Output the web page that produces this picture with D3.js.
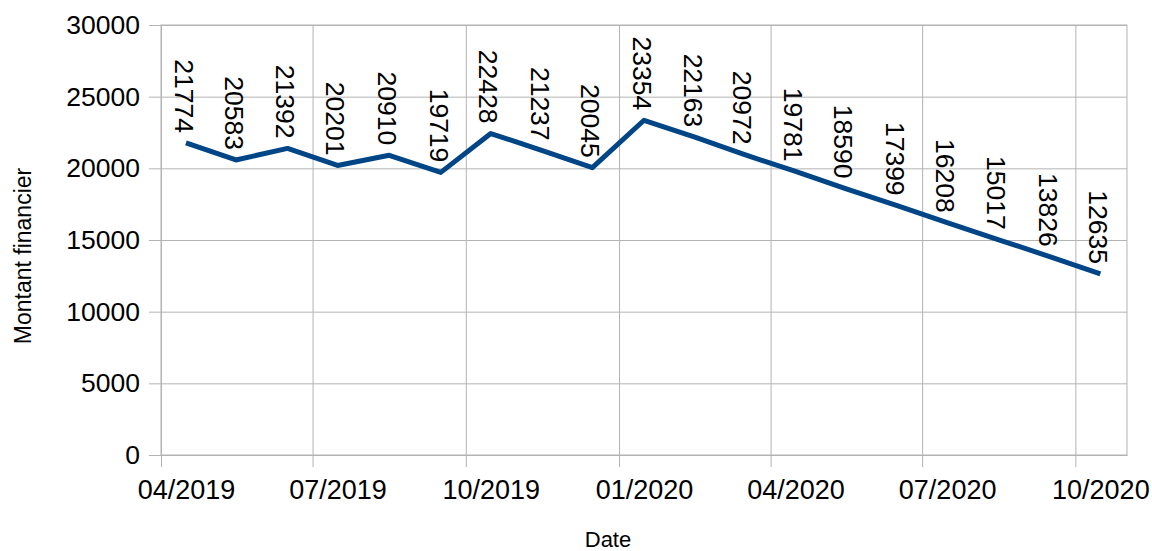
<!DOCTYPE html>
<html>
<head>
<meta charset="utf-8">
<script src="https://cdn.jsdelivr.net/npm/d3@7"></script>
<style>
  body { margin: 0; background: #fff; }
  svg { display: block; font-family: "Liberation Sans", Arial, sans-serif; }
</style>
</head>
<body>
<svg width="1152" height="551"></svg>
<script>
// one point per month, April 2019 to October 2020
const months = ['2019-04', '2019-05', '2019-06', '2019-07', '2019-08', '2019-09',
  '2019-10', '2019-11', '2019-12', '2020-01', '2020-02', '2020-03', '2020-04',
  '2020-05', '2020-06', '2020-07', '2020-08', '2020-09', '2020-10'];
const amounts = [21774, 20583, 21392, 20201, 20910, 19719, 22428, 21237, 20045,
  23354, 22163, 20972, 19781, 18590, 17399, 16208, 15017, 13826, 12635];
const yTicks = [0, 5000, 10000, 15000, 20000, 25000, 30000];

const parseMonth = d3.timeParse('%Y-%m');
const data = months.map((m, i) => ({
  date: d3.timeDay.offset(parseMonth(m), 15),
  value: amounts[i]
}));

const svg = d3.select('svg');
const plotLeft = 161, plotRight = 1127, plotTop = 25, plotBottom = 455;

const x = d3.scaleTime()
  .domain([parseMonth('2019-04'), parseMonth('2020-11')])
  .range([plotLeft, plotRight]);

const y = d3.scaleLinear()
  .domain([0, 30000])
  .range([plotBottom, plotTop]);

const grey = '#b3b3b3';
const font = '"Liberation Sans", Arial, sans-serif';

// grid
svg.append('g')
  .attr('transform', `translate(${plotLeft},0)`)
  .call(d3.axisLeft(y).tickValues(yTicks).tickSize(-(plotRight - plotLeft)).tickFormat(''))
  .call(g => g.select('.domain').remove())
  .call(g => g.selectAll('line').attr('stroke', grey));

svg.append('g')
  .attr('transform', `translate(0,${plotBottom})`)
  .call(d3.axisBottom(x).ticks(d3.timeMonth.every(3)).tickSize(-(plotBottom - plotTop)).tickFormat(''))
  .call(g => g.select('.domain').remove())
  .call(g => g.selectAll('line').attr('stroke', grey));

svg.append('rect')
  .attr('x', plotLeft).attr('y', plotTop)
  .attr('width', plotRight - plotLeft).attr('height', plotBottom - plotTop)
  .attr('fill', 'none').attr('stroke', grey);

// axes
svg.append('g')
  .attr('transform', `translate(${plotLeft},0)`)
  .call(d3.axisLeft(y).tickValues(yTicks).tickSize(12).tickPadding(9).tickSizeOuter(0)
    .tickFormat(d3.format('d')))
  .call(g => g.selectAll('line, .domain').attr('stroke', grey))
  .call(g => g.selectAll('text').attr('font-size', 26.5).attr('fill', '#000')
    .attr('font-family', font));

svg.append('g')
  .attr('transform', `translate(0,${plotBottom})`)
  .call(d3.axisBottom(x).ticks(d3.timeMonth.every(3)).tickSize(12).tickPadding(13)
    .tickSizeOuter(0).tickFormat(d3.timeFormat('%m/%Y')))
  .call(g => g.selectAll('line, .domain').attr('stroke', grey))
  .call(g => g.selectAll('text').attr('font-size', 27).attr('fill', '#000')
    .attr('font-family', font)
    .attr('x', d => x(d3.timeDay.offset(d, 15)) - x(d)));

// axis titles
svg.append('text')
  .attr('x', 608).attr('y', 547)
  .attr('text-anchor', 'middle')
  .attr('font-size', 22)
  .text('Date');

svg.append('text')
  .attr('transform', 'translate(31,256) rotate(-90)')
  .attr('text-anchor', 'middle')
  .attr('font-size', 23)
  .text('Montant financier');

// line
const line = d3.line()
  .x(d => x(d.date))
  .y(d => y(d.value));

svg.append('path')
  .datum(data)
  .attr('d', line)
  .attr('fill', 'none')
  .attr('stroke', '#004586')
  .attr('stroke-width', 5)
  .attr('stroke-linejoin', 'round');

// value labels
svg.append('g')
  .selectAll('text')
  .data(data)
  .join('text')
  .attr('transform', d => `translate(${x(d.date) - 2},${y(d.value) - 10}) rotate(90)`)
  .attr('text-anchor', 'end')
  .attr('dy', '0.35em')
  .attr('font-size', 26.5)
  .text(d => d.value);
</script>
</body>
</html>
